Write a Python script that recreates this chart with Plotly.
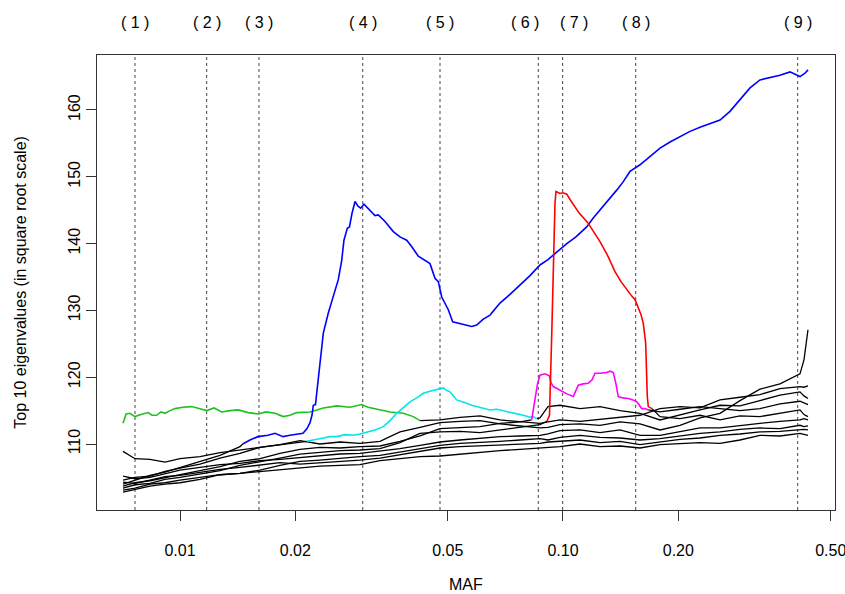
import math
import plotly.graph_objects as go

# ---------------- data ----------------
grid_maf = [0.00710, 0.00763, 0.00835, 0.00914, 0.0100, 0.01128, 0.01272, 0.01434, 0.01618, 0.01824,
            0.02057, 0.02320, 0.02617, 0.02951, 0.03328, 0.03753, 0.04233, 0.04774, 0.05384, 0.06071,
            0.06847, 0.07722, 0.08708, 0.09137, 0.09821, 0.1108, 0.1249, 0.1409, 0.1589, 0.1792,
            0.2021, 0.2279, 0.2570, 0.2898, 0.3268, 0.3686, 0.4157, 0.4258, 0.4362]

N = None
ev_s1 = [108.9, 107.8, 107.7, 107.3, 107.8, 108.1, 108.7, 109.1, 109.4, 109.9,
         110.5, 110.0, 110.3, 110.1, 110.4, 111.8, 112.5, 113.2, 113.4, 113.5,
         113.0, 112.7, 112.4, 112.5, 112.9, 113.0, 112.8, 113.3, 113.0, 112.1,
         112.8, 113.9, 114.6, 116.5, 118.2, 119.0, 120.5, 122.6, 127.1]
ev_b = [104.0, 104.6, 105.3, 105.8, 106.5, 107.4, 108.3, 109.6] + [N] * 31
ev_c = [104.6, 105.0, 105.2, 105.9, 106.4, 107.0, 107.9, 108.6, 109.5, 109.9, 110.2] + [N] * 11 + \
       [113.9, 115.6, 115.8, 115.3, 115.6, 115.0, 114.6,
        113.6, 114.4, 115.1, 115.8, 115.7, 116.5, 117.3, 117.8, 117.2, 116.8]
ev_m = [103.7, 104.2, 104.5, 105.0, 105.4, 106.0, 106.6, 107.4, 107.8, 108.6,
        109.2, 109.5, 109.4, 109.6, 109.7, 110.4, 111.2, 112.3, 112.5, 112.6,
        113.1, 113.3] + [N] * 7 + \
       [114.8, 115.2, 115.6, 115.3, 115.0, 115.3, 116.0, 116.4, 116.1, 115.9]
ev_r = [103.4, 103.9, 104.1, 104.7, 105.0, 105.5, 106.0, 106.8, 107.3, 107.9,
        108.5, 108.8, 109.0, 109.1, 109.3, 110.2, 111.6, 111.8, 111.9, 111.7,
        112.1, 112.4, 112.9] + [N] * 6 + \
       [114.1, 113.8, 114.3, 113.6, 114.2, 114.1, 114.6, 115.1, 114.4, 114.1]
ev_g = [N] * 17 + [113.6, 114.0, 114.2, 113.6, 113.4,
                   113.1, 113.3, 113.6, 113.4, 113.7, 113.9, 114.3,
                   115.3, 115.6, 115.4, 116.6, 117.0, 117.4, 118.3, 118.6, 118.5, 118.7]
ev_s2 = [105.2, 104.8, 105.0, 105.6, 106.1, 106.5, 106.9, 107.1, 107.5, 107.7,
         108.0, 108.2, 108.5, 108.6, 108.9, 109.3, 109.8, 110.3, 110.6, 110.9,
         111.1, 111.2, 111.3, 111.5, 112.0, 112.1, 111.7, 112.1, 111.3,
         111.3, 111.9, 112.4, 112.4, 112.8, 113.1, 113.4, 113.6, 113.8, 113.6]
ev_s3 = [102.8, 103.2, 103.7, 104.0, 104.2, 104.7, 105.4, 105.6, 106.1, 106.8,
         107.4, 107.6, 107.9, 108.1, 108.3, 108.8, 109.4, 109.8, 110.1, 110.2,
         110.4, 110.6, 110.8, 110.6, 111.0, 111.3, 111.0, 110.9, 110.6,
         110.8, 111.2, 111.6, 111.8, 112.2, 112.4, 112.3, 112.8, 112.6, 112.7]
ev_s4 = [104.3, 104.1, 104.6, 105.1, 105.3, 105.8, 106.2, 106.5, 106.8, 107.2,
         107.0, 107.2, 107.3, 107.6, 107.9, 108.4, 108.9, 109.4, 109.6, 109.7,
         109.8, 109.9, 110.1, 110.3, 110.4, 110.6, 110.2, 110.4, 109.9,
         110.3, 110.7, 110.9, 111.3, 111.5, 111.8, 111.9, 112.1, 112.2, 112.1]
ev_s5 = [103.1, 103.4, 104.0, 104.2, 104.6, 105.0, 105.4, 105.6, 105.9, 106.2,
         106.5, 106.7, 106.8, 106.9, 107.5, 107.8, 108.1, 108.2, 108.5, 108.7,
         109.0, 109.2, 109.4, 109.5, 109.6, 110.0, 109.6, 109.7, 109.4,
         109.9, 110.0, 110.2, 110.1, 110.6, 111.3, 111.2, 111.6, 111.4, 111.3]

green_maf = [0.00710, 0.00723, 0.00740, 0.00763, 0.00791, 0.00826, 0.00845, 0.00869, 0.00892, 0.00914,
             0.00942, 0.00970, 0.01018, 0.01073, 0.01121, 0.01174, 0.01227, 0.01285, 0.01351, 0.01420,
             0.01505, 0.01601, 0.01677, 0.01770, 0.01861, 0.01937, 0.02017, 0.02185, 0.02367, 0.02565,
             0.02779, 0.02981, 0.03097, 0.03263, 0.03534, 0.03828, 0.04065, 0.04233]
green_val = [113.1, 114.5, 114.6, 114.1, 114.4, 114.7, 114.3, 114.3, 114.8, 114.6,
             115.0, 115.3, 115.5, 115.6, 115.3, 115.0, 115.4, 114.8, 115.0, 115.1,
             114.7, 114.5, 114.8, 114.6, 114.1, 114.3, 114.7, 114.8, 115.4, 115.7,
             115.5, 115.9, 115.5, 115.2, 114.8, 114.6, 114.1, 113.5]

cyan_maf = [0.02142, 0.02252, 0.02367, 0.02464, 0.02565, 0.02697, 0.02835, 0.02951, 0.03072, 0.03229,
            0.03395, 0.03534, 0.03680, 0.03828, 0.03986, 0.04150, 0.04318, 0.04495, 0.04680, 0.04869,
            0.04979, 0.05069, 0.05278, 0.05439, 0.05605, 0.05776, 0.05952, 0.06193, 0.06448, 0.06713,
            0.06984, 0.07271, 0.07570, 0.07877, 0.08200, 0.08349, 0.08537]
cyan_val = [110.4, 110.7, 110.9, 111.1, 111.1, 111.4, 111.3, 111.5, 111.8, 112.1,
            112.6, 113.5, 114.6, 115.4, 116.3, 116.9, 117.6, 117.9, 118.1, 118.4,
            118.0, 117.8, 116.6, 116.4, 116.1, 115.8, 115.6, 115.3, 115.1, 115.2,
            115.0, 114.8, 114.5, 114.3, 114.0, 114.1, 113.8]

blue_maf = [0.01458, 0.01523, 0.01598, 0.01697, 0.01770, 0.01858, 0.01937, 0.02021, 0.02095, 0.02146,
            0.02185, 0.02211, 0.02229, 0.02258, 0.02293, 0.02320, 0.02367, 0.02439, 0.02513, 0.02590,
            0.02644, 0.02680, 0.02734, 0.02770, 0.02812, 0.02864, 0.02916, 0.02963, 0.03023, 0.03134,
            0.03229, 0.03294, 0.03430, 0.03605, 0.03753, 0.03908, 0.04034, 0.04190, 0.04336, 0.04495,
            0.04632, 0.04725, 0.04823, 0.05018, 0.05152, 0.05439, 0.05776, 0.05952, 0.06193, 0.06448,
            0.06847, 0.07271, 0.07722, 0.08200, 0.08708, 0.09137, 0.09530, 0.1023, 0.1081, 0.1153,
            0.1198, 0.1249, 0.1311, 0.1381, 0.1434, 0.1496, 0.1589, 0.1687, 0.1792, 0.1903,
            0.2021, 0.2146, 0.2279, 0.2420, 0.2570, 0.2729, 0.2898, 0.3078, 0.3268, 0.3471,
            0.3686, 0.3914, 0.4058, 0.4157, 0.4284, 0.4362]
blue_val = [110.0, 110.6, 111.1, 111.3, 111.6, 111.1, 111.3, 111.5, 111.6, 112.3,
            113.2, 114.3, 115.8, 115.9, 119.5, 122.6, 126.6, 129.6, 132.0, 134.6,
            137.5, 140.5, 142.3, 142.5, 144.5, 146.3, 145.6, 145.3, 145.9, 145.0,
            144.2, 144.3, 143.3, 141.8, 141.0, 140.5, 139.5, 138.1, 137.6, 137.0,
            134.8, 134.3, 132.0, 130.1, 128.3, 128.0, 127.6, 127.8, 128.7, 129.3,
            131.1, 132.4, 133.8, 135.2, 136.8, 137.6, 138.5, 140.0, 141.0, 142.5,
            143.8, 145.0, 146.5, 148.0, 149.2, 150.8, 151.8, 153.0, 154.3, 155.2,
            156.0, 156.8, 157.4, 157.9, 158.5, 159.8, 161.5, 163.3, 164.5, 164.8,
            165.2, 165.7, 165.3, 165.0, 165.5, 166.0]

mag_maf = [0.08284, 0.08375, 0.08450, 0.08578, 0.08708, 0.08974, 0.09209, 0.09304, 0.09433, 0.09645,
           0.09922, 0.1024, 0.1064, 0.1081, 0.1096, 0.1128, 0.1164, 0.1191, 0.1212, 0.1249,
           0.1300, 0.1327, 0.1353, 0.1375, 0.1394, 0.1434, 0.1481, 0.1523, 0.1558, 0.1579,
           0.1605, 0.1637, 0.1670]
mag_val = [113.6, 115.5, 117.1, 119.0, 120.3, 120.5, 120.2, 119.2, 118.6, 118.3,
           117.8, 117.5, 117.1, 118.0, 118.8, 119.0, 119.1, 119.6, 120.6, 120.6,
           120.7, 120.9, 120.7, 119.0, 117.1, 116.9, 116.8, 116.6, 116.3, 115.9,
           115.3, 115.3, 115.1]

red_maf = [0.09083, 0.09220, 0.09343, 0.09433, 0.09530, 0.09588, 0.09821, 0.1000, 0.1023, 0.1043,
           0.1075, 0.1101, 0.1162, 0.1205, 0.1249, 0.1303, 0.1367, 0.1417, 0.1467, 0.1514,
           0.1542, 0.1570, 0.1598, 0.1620, 0.1644, 0.1660, 0.1670, 0.1708]
red_val = [113.4, 114.3, 126.1, 138.5, 146.0, 147.8, 147.5, 147.6, 147.4, 146.6,
           145.5, 144.6, 143.1, 141.7, 140.3, 138.4, 135.8, 134.3, 133.1, 132.1,
           131.6, 130.6, 129.4, 128.1, 125.1, 117.1, 115.6, 115.3]

region_maf = [0.00763, 0.01174, 0.01608, 0.0300, 0.04774, 0.0862, 0.0998, 0.1548, 0.410]
label_maf = [0.00763, 0.01174, 0.01608, 0.0300, 0.04774, 0.0796, 0.1068, 0.1548, 0.410]
region_labels = ["( 1 )", "( 2 )", "( 3 )", "( 4 )", "( 5 )", "( 6 )", "( 7 )", "( 8 )", "( 9 )"]

x_ticks = [0.01, 0.02, 0.05, 0.10, 0.20, 0.50]
x_tick_labels = ["0.01", "0.02", "0.05", "0.10", "0.20", "0.50"]
y_ticks = [110, 120, 130, 140, 150, 160]

X_RANGE = [-2.2167, -0.2898]
Y_RANGE = [100.12, 168.23]

# ---------------- figure ----------------
fig = go.Figure()

for m in region_maf:
    fig.add_trace(go.Scatter(x=[m, m], y=Y_RANGE, mode="lines",
                             line=dict(color="#444444", width=1, dash="dot"),
                             hoverinfo="skip", showlegend=False))


def black_part(vals, seg_maf=None, seg_val=None):
    pts = [(m, v, False) for m, v in zip(grid_maf, vals) if v is not None]
    if seg_maf:
        pts += [(m, v, True) for m, v in zip(seg_maf, seg_val)]
    pts.sort(key=lambda p: p[0])
    bx, by = [], []
    n = len(pts)
    for i, (m, v, col) in enumerate(pts):
        if not col:
            bx.append(m); by.append(v)
        else:
            prev_b = i > 0 and not pts[i - 1][2]
            next_b = i < n - 1 and not pts[i + 1][2]
            if prev_b or next_b:
                bx.append(m); by.append(v)
            elif bx and by[-1] is not None:
                bx.append(m); by.append(None)
    return bx, by


black_specs = [
    (ev_s1, None, None), (ev_s2, None, None), (ev_s3, None, None),
    (ev_s4, None, None), (ev_s5, None, None),
    (ev_b, blue_maf, blue_val), (ev_c, cyan_maf, cyan_val),
    (ev_m, mag_maf, mag_val), (ev_r, red_maf, red_val),
    (ev_g, green_maf, green_val),
]
for vals, sm, sv in black_specs:
    bx, by = black_part(vals, sm, sv)
    fig.add_trace(go.Scatter(x=bx, y=by, mode="lines", connectgaps=False,
                             line=dict(color="black", width=1.3),
                             hoverinfo="skip", showlegend=False))

for sm, sv, col in [(green_maf, green_val, "#1EC21E"),
                    (cyan_maf, cyan_val, "#00E5EE"),
                    (blue_maf, blue_val, "#0000FF"),
                    (mag_maf, mag_val, "#FF00FF"),
                    (red_maf, red_val, "#FF0000")]:
    fig.add_trace(go.Scatter(x=sm, y=sv, mode="lines",
                             line=dict(color=col, width=1.6),
                             hoverinfo="skip", showlegend=False))

annotations = []
for m, lab in zip(label_maf, region_labels):
    annotations.append(dict(x=math.log10(m), y=1.0725, xref="x", yref="paper",
                            text=lab, showarrow=False, xanchor="center", yanchor="middle",
                            font=dict(size=16)))
annotations.append(dict(x=0.5, y=-0.1648, xref="paper", yref="paper", text="MAF",
                        showarrow=False, xanchor="center", yanchor="middle", font=dict(size=16)))
annotations.append(dict(x=-0.104, y=0.5, xref="paper", yref="paper",
                        text="Top 10 eigenvalues (in square root scale)", textangle=-90,
                        showarrow=False, xanchor="center", yanchor="middle", font=dict(size=16)))

fig.update_layout(
    width=845, height=594,
    margin=dict(l=97, r=10, t=55, b=84, autoexpand=False),
    plot_bgcolor="white", paper_bgcolor="white",
    showlegend=False,
    font=dict(family="Liberation Sans, Arial, sans-serif", size=16, color="black"),
    annotations=annotations,
)
fig.update_xaxes(type="log", range=X_RANGE, tickvals=x_ticks, ticktext=x_tick_labels,
                 ticks="outside", ticklen=10, tickcolor="#333333", tickwidth=1,
                 showline=True, linecolor="#333333", linewidth=1, mirror=True,
                 showgrid=False, zeroline=False, ticklabelstandoff=16,
                 ticklabeloverflow="allow", automargin=False)
fig.update_yaxes(range=Y_RANGE, tickvals=y_ticks, tickangle=-90,
                 ticks="outside", ticklen=10, tickcolor="#333333", tickwidth=1,
                 showline=True, linecolor="#333333", linewidth=1, mirror=True,
                 showgrid=False, zeroline=False, automargin=False)

fig.write_html("out.html", config={"displayModeBar": False},
               post_script="document.body.style.margin='0px';document.body.style.overflow='hidden';")
